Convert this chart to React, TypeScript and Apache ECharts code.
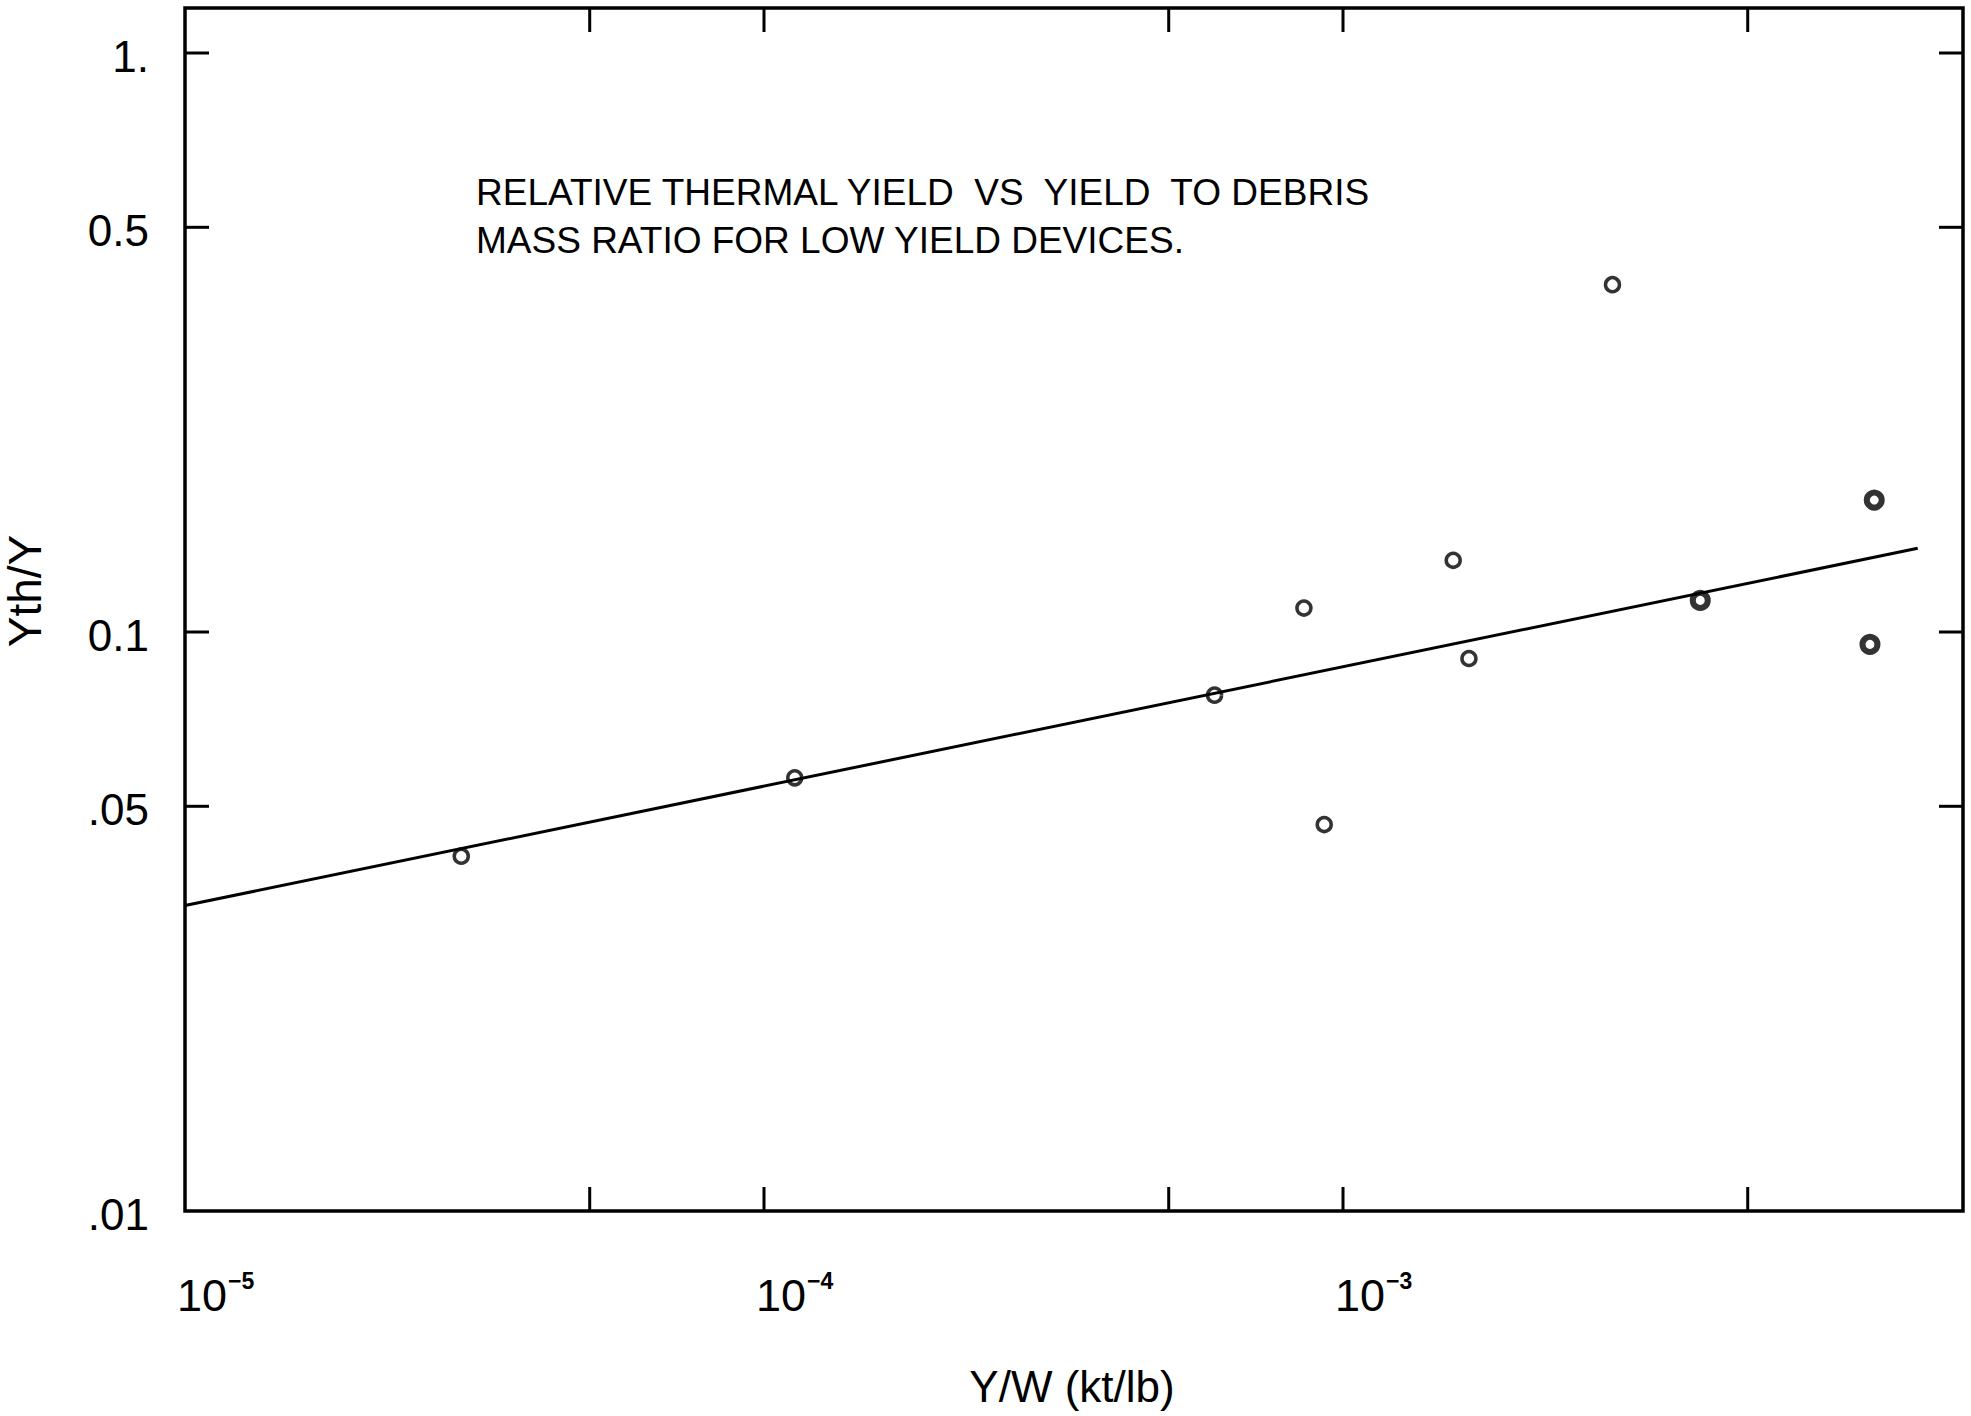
import React, { useEffect, useRef } from "react";
import * as echarts from "echarts";

// Axis ranges (log-log)
const X_MIN = 1e-5;
const X_MAX = 0.01177;
const Y_MIN = 0.01;
const Y_MAX = 1.196;

// Measured devices: light rings
const thinX = [3.0e-5, 1.13e-4, 6.0e-4, 8.56e-4, 9.28e-4, 1.55e-3, 1.65e-3, 2.92e-3];
const thinY = [0.041, 0.056, 0.0778, 0.11, 0.0465, 0.133, 0.09, 0.398];

// Measured devices: heavy rings
const boldX = [4.14e-3, 8.27e-3, 8.13e-3];
const boldY = [0.1134, 0.169, 0.0952];

// Fitted trend line end points
const fitX = [1e-5, 9.83e-3];
const fitY = [0.0337, 0.1395];

// Tick positions and labels
const xTickValues = [5e-5, 1e-4, 5e-4, 1e-3, 5e-3];
const xLabelValues = [1e-5, 1e-4, 1e-3];
const xLabelExponents = ["\u22125", "\u22124", "\u22123"];
const yTickValues = [0.05, 0.1, 0.5, 1];
const yLabelValues = [0.01, 0.05, 0.1, 0.5, 1];
const yLabelTexts = [".01", ".05", "0.1", "0.5", "1."];

const FONT = "'Liberation Sans', 'DejaVu Sans', Arial, sans-serif";
const TICK = 24;
const INK = "#000";

export default function App() {
  const ref = useRef<HTMLDivElement>(null);

  useEffect(() => {
    if (!ref.current) return;
    const chart = echarts.init(ref.current, undefined, { renderer: "svg" });

    const option: any = {
      animation: false,
      backgroundColor: "#fff",
      grid: {
        left: 185,
        top: 8,
        width: 1778,
        height: 1203,
        show: true,
        borderColor: INK,
        borderWidth: 3.5,
        backgroundColor: "transparent",
      },
      xAxis: {
        type: "log",
        logBase: 10,
        min: X_MIN,
        max: X_MAX,
        axisLine: { show: false },
        axisTick: { show: false },
        axisLabel: { show: false },
        splitLine: { show: false },
      },
      yAxis: {
        type: "log",
        logBase: 10,
        min: Y_MIN,
        max: Y_MAX,
        axisLine: { show: false },
        axisTick: { show: false },
        axisLabel: { show: false },
        splitLine: { show: false },
      },
      graphic: [
        {
          type: "text",
          x: 25,
          y: 591,
          rotation: Math.PI / 2,
          style: {
            text: "Yth/Y",
            fontFamily: FONT,
            fontSize: 46,
            fill: INK,
            align: "center",
            verticalAlign: "middle",
          },
        },
        {
          type: "text",
          x: 1072,
          y: 1386,
          style: {
            text: "Y/W (kt/lb)",
            fontFamily: FONT,
            fontSize: 44,
            lineHeight: 44,
            fill: INK,
            align: "center",
            verticalAlign: "middle",
          },
        },
        {
          type: "text",
          x: 476,
          y: 192,
          style: {
            text: "RELATIVE THERMAL YIELD  VS  YIELD  TO DEBRIS",
            fontFamily: FONT,
            fontSize: 37,
            fill: INK,
            align: "left",
            verticalAlign: "middle",
          },
        },
        {
          type: "text",
          x: 476,
          y: 240,
          style: {
            text: "MASS RATIO FOR LOW YIELD DEVICES.",
            fontFamily: FONT,
            fontSize: 37,
            fill: INK,
            align: "left",
            verticalAlign: "middle",
          },
        },
      ],
      series: [
        {
          name: "fit",
          type: "line",
          data: fitX.map((x, i) => [x, fitY[i]]),
          symbol: "none",
          silent: true,
          lineStyle: { color: INK, width: 3 },
          z: 2,
        },
        {
          name: "devices",
          type: "scatter",
          data: thinX.map((x, i) => [x, thinY[i]]),
          symbol: "circle",
          symbolSize: 14,
          silent: true,
          itemStyle: { color: "transparent", borderColor: INK, borderWidth: 3.5 },
          z: 3,
        },
        {
          name: "devices heavy",
          type: "scatter",
          data: boldX.map((x, i) => [x, boldY[i]]),
          symbol: "circle",
          symbolSize: 15,
          silent: true,
          itemStyle: { color: "transparent", borderColor: INK, borderWidth: 6 },
          z: 3,
        },
        {
          // ticks on bottom and top frame edges
          name: "x ticks",
          type: "custom",
          silent: true,
          data: xTickValues.map((v) => [v, Y_MIN]),
          renderItem: (_p: any, api: any) => {
            const v = api.value(0);
            const b = api.coord([v, Y_MIN]);
            const t = api.coord([v, Y_MAX]);
            return {
              type: "group",
              children: [
                { type: "line", shape: { x1: b[0], y1: b[1], x2: b[0], y2: b[1] - TICK }, style: { stroke: INK, lineWidth: 3 } },
                { type: "line", shape: { x1: t[0], y1: t[1], x2: t[0], y2: t[1] + TICK }, style: { stroke: INK, lineWidth: 3 } },
              ],
            };
          },
        },
        {
          // ticks on left and right frame edges
          name: "y ticks",
          type: "custom",
          silent: true,
          data: yTickValues.map((v) => [X_MIN, v]),
          renderItem: (_p: any, api: any) => {
            const v = api.value(1);
            const l = api.coord([X_MIN, v]);
            const r = api.coord([X_MAX, v]);
            return {
              type: "group",
              children: [
                { type: "line", shape: { x1: l[0], y1: l[1], x2: l[0] + TICK, y2: l[1] }, style: { stroke: INK, lineWidth: 3 } },
                { type: "line", shape: { x1: r[0], y1: r[1], x2: r[0] - TICK, y2: r[1] }, style: { stroke: INK, lineWidth: 3 } },
              ],
            };
          },
        },
        {
          // decade labels 10^n under the x axis
          name: "x labels",
          type: "custom",
          silent: true,
          data: xLabelValues.map((v) => [v, Y_MIN]),
          renderItem: (p: any, api: any) => {
            const v = api.value(0);
            const b = api.coord([v, Y_MIN]);
            const left = b[0] - 8;
            return {
              type: "group",
              children: [
                {
                  type: "text",
                  x: left,
                  y: b[1] + 84,
                  style: { text: "10", fontFamily: FONT, fontSize: 45, fill: INK, align: "left", verticalAlign: "middle" },
                },
                {
                  type: "text",
                  x: left + 51,
                  y: b[1] + 70,
                  style: {
                    text: xLabelExponents[p.dataIndex],
                    fontFamily: FONT,
                    fontSize: 23,
                    fontWeight: "bold",
                    fill: INK,
                    align: "left",
                    verticalAlign: "middle",
                  },
                },
              ],
            };
          },
        },
        {
          // value labels left of the y axis
          name: "y labels",
          type: "custom",
          silent: true,
          data: yLabelValues.map((v) => [X_MIN, v]),
          renderItem: (p: any, api: any) => {
            const v = api.value(1);
            const l = api.coord([X_MIN, v]);
            return {
              type: "text",
              x: l[0] - 36,
              y: l[1] + 3,
              style: {
                text: yLabelTexts[p.dataIndex],
                fontFamily: FONT,
                fontSize: 44,
                fill: INK,
                align: "right",
                verticalAlign: "middle",
              },
            };
          },
        },
      ],
    };

    chart.setOption(option);
    return () => chart.dispose();
  }, []);

  return (
    <div
      ref={ref}
      style={{ position: "absolute", left: 0, top: 0, width: 1971, height: 1416, background: "#fff" }}
    />
  );
}
